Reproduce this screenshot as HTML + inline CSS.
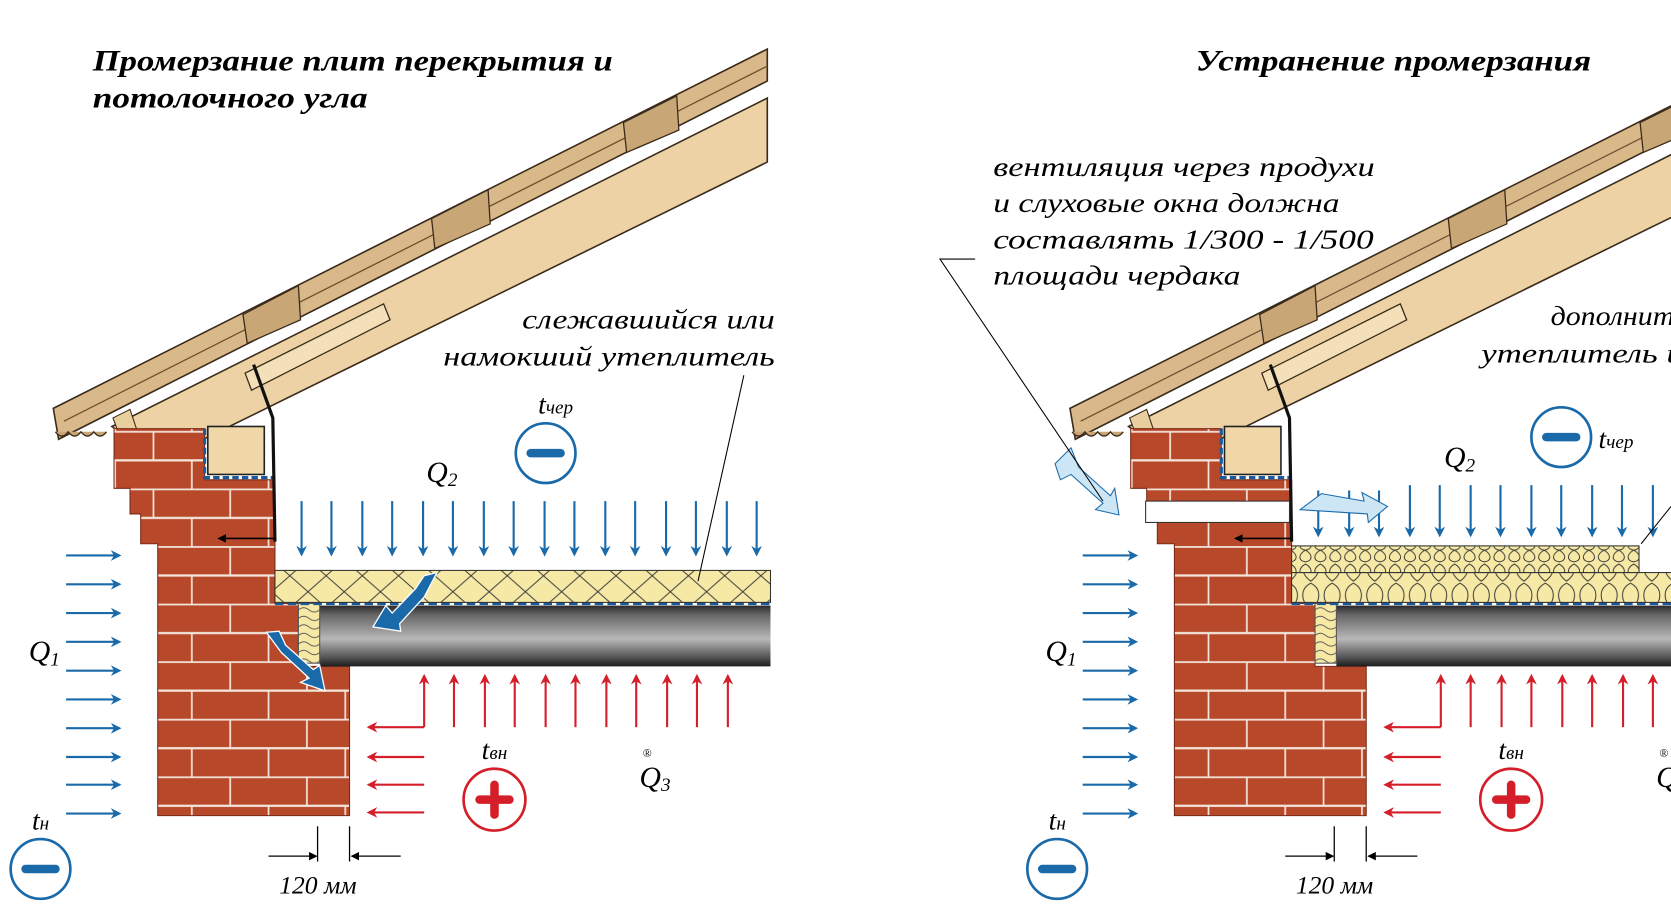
<!DOCTYPE html>
<html><head><meta charset="utf-8"><style>
html,body{margin:0;padding:0;background:#fff;}
svg{display:block}
text{font-family:"Liberation Serif",serif;font-style:italic;}
</style></head><body>
<svg width="1671" height="918" viewBox="0 0 1568 861" preserveAspectRatio="none" xmlns="http://www.w3.org/2000/svg">
<defs>
<pattern id="brick" width="72" height="54" patternUnits="userSpaceOnUse">
<rect width="72" height="54" fill="#b8482a"/>
<path d="M0 0H72M0 27H72M0 53.5H72M36 0V27M0 27V54M72 27V54" stroke="#f3e6dc" stroke-width="1.6" fill="none"/>
</pattern>
<pattern id="wool" width="34" height="30" patternUnits="userSpaceOnUse">
<rect width="34" height="30" fill="#f6e9a6"/>
<path d="M0 0L34 30M34 0L0 30" stroke="#333" stroke-width="0.9" fill="none"/>
</pattern>
<pattern id="wool2" width="20" height="26" patternUnits="userSpaceOnUse">
<rect width="20" height="26" fill="#f6e9a6"/>
<path d="M10 1C0 6 0 18 10 25C20 18 20 6 10 1Z" stroke="#333" stroke-width="0.9" fill="none"/>
</pattern>
<pattern id="wool3" width="14" height="24" patternUnits="userSpaceOnUse">
<rect width="14" height="24" fill="#f6e9a6"/>
<path d="M7 1C0 5 0 11 7 12C14 11 14 5 7 1ZM7 12C0 16 0 22 7 23C14 22 14 16 7 12Z" stroke="#333" stroke-width="0.9" fill="none"/>
</pattern>
<pattern id="vwool" width="20" height="8" patternUnits="userSpaceOnUse">
<rect width="20" height="8" fill="#f6e9a6"/>
<path d="M0 4Q5 0 10 4T20 4" stroke="#555" stroke-width="0.8" fill="none"/>
</pattern>
<linearGradient id="slab" x1="0" y1="0" x2="0" y2="1">
<stop offset="0" stop-color="#2a2a2a"/><stop offset="0.15" stop-color="#666"/><stop offset="0.55" stop-color="#b8b8b8"/><stop offset="0.85" stop-color="#555"/><stop offset="1" stop-color="#1c1c1c"/>
</linearGradient>
<marker id="ab" markerWidth="10" markerHeight="10" refX="8" refY="5" orient="auto" markerUnits="userSpaceOnUse"><path d="M0 0L10 5L0 10L3 5Z" fill="#1a6aaa"/></marker>
<marker id="ar" markerWidth="10" markerHeight="10" refX="8" refY="5" orient="auto" markerUnits="userSpaceOnUse"><path d="M0 0L10 5L0 10L3 5Z" fill="#d41f2a"/></marker>
<marker id="ak" markerWidth="8" markerHeight="8" refX="7" refY="4" orient="auto" markerUnits="userSpaceOnUse"><path d="M0 0L8 4L0 8Z" fill="#000"/></marker>

<g id="common">
<polygon points="105,400 720,92 720,152 150,432" fill="#ecd2a4" stroke="#3a2a1a" stroke-width="1.5"/>
<polygon points="230,350 360,285 366,300 236,366" fill="#f3dfb8" stroke="#3a2a1a" stroke-width="1.2"/>
<polygon points="50,383 720,46 720,76 55,412" fill="#d9b98a" stroke="#3a2a1a" stroke-width="1.5"/>
<line x1="60" y1="395" x2="720" y2="62" stroke="#6b5030" stroke-width="1.2"/>
<path d="M52,405 q6,8 12,0 q6,8 12,0 q6,8 12,0 q6,8 12,0" fill="#c9a676" stroke="#3a2a1a" stroke-width="1.2"/>
<polygon points="228,295 280,268 282,300 232,322" fill="#c9a676" stroke="#3a2a1a" stroke-width="1.2"/>
<polygon points="405,205 458,178 460,210 408,233" fill="#c9a676" stroke="#3a2a1a" stroke-width="1.2"/>
<polygon points="585,115 635,90 637,122 588,143" fill="#c9a676" stroke="#3a2a1a" stroke-width="1.2"/>
<polygon points="106,392 122,384 128,402 112,408" fill="#e9cf9e" stroke="#3a2a1a" stroke-width="1"/>
<polygon points="107,402 192,402 192,450 258,450 258,566 280,566 280,625 328,625 328,765 148,765 148,510 132,510 132,482 122,482 122,458 107,458" fill="url(#brick)" stroke="#7a2a18" stroke-width="1"/>
<rect x="195" y="400" width="53" height="45" fill="#f0d7a8" stroke="#222" stroke-width="1.5"/>
<path d="M192,402V448H258" stroke="#1a5a9a" stroke-width="3" fill="none" stroke-dasharray="6,3"/>
<path d="M238,342 L256,392 L258,508" stroke="#111" stroke-width="3" fill="none"/>
<line x1="258" y1="505" x2="205" y2="505" stroke="#000" stroke-width="1.5" marker-end="url(#ak)"/>
<rect x="300" y="568" width="423" height="57" fill="url(#slab)"/>
<rect x="280" y="566" width="20" height="56" fill="url(#vwool)" stroke="#555" stroke-width="1"/>
<line x1="258" y1="566" x2="723" y2="566" stroke="#1a5a9a" stroke-width="3" stroke-dasharray="8,4"/>
<g stroke="#1a6aaa" stroke-width="2" marker-end="url(#ab)">
<line x1="62" y1="521" x2="112" y2="521"/><line x1="62" y1="548" x2="112" y2="548"/><line x1="62" y1="575" x2="112" y2="575"/><line x1="62" y1="602" x2="112" y2="602"/><line x1="62" y1="629" x2="112" y2="629"/><line x1="62" y1="656" x2="112" y2="656"/><line x1="62" y1="683" x2="112" y2="683"/><line x1="62" y1="710" x2="112" y2="710"/><line x1="62" y1="736" x2="112" y2="736"/><line x1="62" y1="763" x2="112" y2="763"/>
</g>
<g stroke="#d41f2a" stroke-width="2" fill="none" marker-end="url(#ar)">
<path d="M398,682V634"/><line x1="426" y1="682" x2="426" y2="634"/><line x1="455" y1="682" x2="455" y2="634"/><line x1="483" y1="682" x2="483" y2="634"/><line x1="512" y1="682" x2="512" y2="634"/><line x1="540" y1="682" x2="540" y2="634"/><line x1="569" y1="682" x2="569" y2="634"/><line x1="597" y1="682" x2="597" y2="634"/><line x1="626" y1="682" x2="626" y2="634"/><line x1="654" y1="682" x2="654" y2="634"/><line x1="683" y1="682" x2="683" y2="634"/>
<path d="M398,682H346"/><line x1="398" y1="710" x2="346" y2="710"/><line x1="398" y1="736" x2="346" y2="736"/><line x1="398" y1="762" x2="346" y2="762"/>
</g>
<g stroke="#000" stroke-width="1.2" fill="none">
<line x1="298" y1="775" x2="298" y2="808"/><line x1="328" y1="775" x2="328" y2="808"/>
<line x1="252" y1="803" x2="297" y2="803" marker-end="url(#ak)"/><line x1="376" y1="803" x2="330" y2="803" marker-end="url(#ak)"/>
</g>
<text x="262" y="838" font-size="24">120 мм</text>
<circle cx="38" cy="815" r="28" fill="#fff" stroke="#1a6aaa" stroke-width="2.5"/><line x1="24" y1="815" x2="52" y2="815" stroke="#1a6aaa" stroke-width="8" stroke-linecap="round"/>
<circle cx="464" cy="750" r="29" fill="#fff" stroke="#d41f2a" stroke-width="2.5"/><path d="M450,750H478M464,736V764" stroke="#d41f2a" stroke-width="8" stroke-linecap="round"/>
<text x="27" y="620" font-size="28">Q<tspan font-size="18" dy="4">1</tspan></text>
<text x="30" y="778" font-size="26">t<tspan font-size="18">н</tspan></text>
<text x="452" y="712" font-size="26">t<tspan font-size="18">вн</tspan></text>
<text x="600" y="738" font-size="28">Q<tspan font-size="18" dy="4">3</tspan></text>
<text x="603" y="710" font-size="11" font-style="normal">®</text>
</g>
</defs>

<use href="#common"/>
<rect x="258" y="535" width="465" height="30" fill="url(#wool)" stroke="#333" stroke-width="1"/>
<g stroke="#1a6aaa" stroke-width="2" marker-end="url(#ab)">
<line x1="283" y1="470" x2="283" y2="520"/><line x1="311" y1="470" x2="311" y2="520"/><line x1="340" y1="470" x2="340" y2="520"/><line x1="368" y1="470" x2="368" y2="520"/><line x1="397" y1="470" x2="397" y2="520"/><line x1="425" y1="470" x2="425" y2="520"/><line x1="454" y1="470" x2="454" y2="520"/><line x1="482" y1="470" x2="482" y2="520"/><line x1="511" y1="470" x2="511" y2="520"/><line x1="539" y1="470" x2="539" y2="520"/><line x1="568" y1="470" x2="568" y2="520"/><line x1="596" y1="470" x2="596" y2="520"/><line x1="625" y1="470" x2="625" y2="520"/><line x1="653" y1="470" x2="653" y2="520"/><line x1="682" y1="470" x2="682" y2="520"/><line x1="710" y1="470" x2="710" y2="520"/>
</g>
<polygon points="398,540 410,537 398,560 375,585 376,592 350,588 362,568 368,575 390,552" fill="#1a6aaa" stroke="#fff" stroke-width="1.2"/>
<polygon points="250,593 262,592 268,605 294,628 300,624 305,648 282,640 290,636 264,612" fill="#1a6aaa" stroke="#fff" stroke-width="1.2"/>
<line x1="698" y1="352" x2="655" y2="545" stroke="#000" stroke-width="1"/>
<text x="490" y="308" font-size="26" textLength="237" lengthAdjust="spacingAndGlyphs">слежавшийся или</text>
<text x="416" y="343" font-size="26" textLength="311" lengthAdjust="spacingAndGlyphs">намокший утеплитель</text>
<text x="400" y="452" font-size="28">Q<tspan font-size="18" dy="4">2</tspan></text>
<text x="505" y="388" font-size="26">t<tspan font-size="18">чер</tspan></text>
<circle cx="512" cy="425" r="28" fill="#fff" stroke="#1a6aaa" stroke-width="2.5"/><line x1="498" y1="425" x2="526" y2="425" stroke="#1a6aaa" stroke-width="8" stroke-linecap="round"/>
<text x="87" y="66" font-size="28" font-weight="bold" textLength="488" lengthAdjust="spacingAndGlyphs">Промерзание плит перекрытия и</text>
<text x="87" y="101" font-size="28" font-weight="bold" textLength="258" lengthAdjust="spacingAndGlyphs">потолочного угла</text>

<use href="#common" transform="translate(954,0)"/>
<rect x="1075" y="470" width="135" height="20" fill="#fff" stroke="#333" stroke-width="1"/>
<rect x="1212" y="537" width="360" height="28" fill="url(#wool2)" stroke="#333" stroke-width="1"/>
<rect x="1212" y="512" width="326" height="25" fill="url(#wool3)" stroke="#333" stroke-width="1"/>
<g stroke="#1a6aaa" stroke-width="2" marker-end="url(#ab)">
<line x1="1237" y1="460" x2="1237" y2="502"/><line x1="1266" y1="460" x2="1266" y2="502"/><line x1="1294" y1="460" x2="1294" y2="502"/><line x1="1323" y1="455" x2="1323" y2="502"/><line x1="1351" y1="455" x2="1351" y2="502"/><line x1="1380" y1="455" x2="1380" y2="502"/><line x1="1408" y1="455" x2="1408" y2="502"/><line x1="1437" y1="455" x2="1437" y2="502"/><line x1="1465" y1="455" x2="1465" y2="502"/><line x1="1494" y1="455" x2="1494" y2="502"/><line x1="1522" y1="455" x2="1522" y2="502"/><line x1="1551" y1="455" x2="1551" y2="502"/>
</g>
<polygon points="1220,478 1240,463 1280,470 1278,462 1302,475 1284,490 1283,482" fill="#cde6f6" stroke="#1a6aaa" stroke-width="1"/>
<polygon points="990,435 1005,420 1012,438 1042,465 1046,458 1050,483 1028,478 1035,472 1005,445 995,450" fill="#cde6f6" stroke="#1a6aaa" stroke-width="1"/>
<polyline points="915,243 882,243 1035,470" fill="none" stroke="#000" stroke-width="1"/>
<line x1="1568" y1="475" x2="1540" y2="510" stroke="#000" stroke-width="1"/>
<text x="932" y="165" font-size="26" textLength="358" lengthAdjust="spacingAndGlyphs">вентиляция через продухи</text>
<text x="932" y="199" font-size="26" textLength="325" lengthAdjust="spacingAndGlyphs">и слуховые окна должна</text>
<text x="932" y="233" font-size="26" textLength="357" lengthAdjust="spacingAndGlyphs">составлять 1/300 - 1/500</text>
<text x="932" y="267" font-size="26" textLength="232" lengthAdjust="spacingAndGlyphs">площади чердака</text>
<text x="1455" y="305" font-size="26" textLength="200" lengthAdjust="spacingAndGlyphs">дополнительный</text>
<text x="1390" y="340" font-size="26" textLength="190" lengthAdjust="spacingAndGlyphs">утеплитель и</text>
<text x="1355" y="438" font-size="28">Q<tspan font-size="18" dy="4">2</tspan></text>
<text x="1500" y="420" font-size="26">t<tspan font-size="18">чер</tspan></text>
<circle cx="1465" cy="410" r="28" fill="#fff" stroke="#1a6aaa" stroke-width="2.5"/><line x1="1451" y1="410" x2="1479" y2="410" stroke="#1a6aaa" stroke-width="8" stroke-linecap="round"/>
<text x="1122" y="66" font-size="28" font-weight="bold" textLength="371" lengthAdjust="spacingAndGlyphs">Устранение промерзания</text>
</svg>
</body></html>
